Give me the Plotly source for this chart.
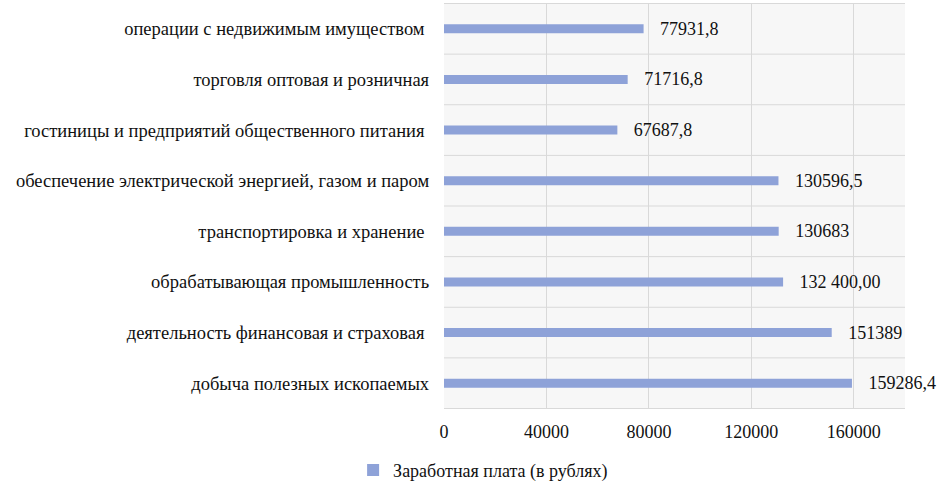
import plotly.graph_objects as go

categories = [
    "операции с недвижимым имуществом\u00a0",
    "торговля оптовая и розничная",
    "гостиницы и предприятий общественного питания\u00a0",
    "обеспечение электрической энергией, газом и паром",
    "транспортировка и хранение\u00a0",
    "обрабатывающая промышленность",
    "деятельность финансовая и страховая\u00a0",
    "добыча полезных ископаемых",
]
salary = [77931.8, 71716.8, 67687.8, 130596.5, 130683, 132400, 151389, 159286.4]
salary_labels = ["77931,8", "71716,8", "67687,8", "130596,5", "130683",
                 "132 400,00", "151389", "159286,4"]
tick_vals = [0, 40000, 80000, 120000, 160000]
tick_text = ["0", "40000", "80000", "120000", "160000"]

FONT = "Liberation Serif"

fig = go.Figure()
fig.add_trace(
    go.Bar(
        x=salary,
        y=categories,
        orientation="h",
        name="Заработная плата (в рублях)",
        marker=dict(color="#8EA2D8", line=dict(width=0)),
        text=["\u00a0\u00a0\u00a0" + t for t in salary_labels],
        textposition="outside",
        constraintext="none",
        cliponaxis=False,
        textfont=dict(family=FONT, size=18, color="#111111"),
        hoverinfo="x+y",
    )
)

fig.update_layout(
    width=951,
    height=496,
    margin=dict(l=444, r=46, t=3, b=87, autoexpand=False),
    paper_bgcolor="white",
    plot_bgcolor="#f7f7f7",
    font=dict(family=FONT, size=18, color="#111111"),
    bargap=0.82,
    showlegend=True,
    legend=dict(
        orientation="h",
        xref="container",
        yref="container",
        x=0.508,
        y=0.052,
        xanchor="center",
        yanchor="middle",
        font=dict(family=FONT, size=18, color="#111111"),
    ),
)
fig.update_xaxes(
    range=[0, 180000],
    tickvals=tick_vals,
    ticktext=tick_text,
    showgrid=True,
    gridcolor="#d9d9d9",
    gridwidth=1,
    zeroline=False,
    showline=False,
    ticks="",
    ticklabelstandoff=10,
    automargin=False,
    fixedrange=True,
)
fig.update_yaxes(
    autorange="reversed",
    showgrid=False,
    showline=False,
    ticks="",
    ticksuffix="   ",
    tickfont=dict(family=FONT, size=18.5),
    automargin=False,
    fixedrange=True,
)
# horizontal separators between categories
for i in range(len(categories) + 1):
    fig.add_shape(
        type="line", xref="paper", yref="y",
        x0=0, x1=1, y0=i - 0.5, y1=i - 0.5,
        line=dict(color="#d9d9d9", width=1), layer="below",
    )

fig.write_html(
    "out.html",
    config={"displayModeBar": False},
    post_script="document.body.style.margin='0';",
)
